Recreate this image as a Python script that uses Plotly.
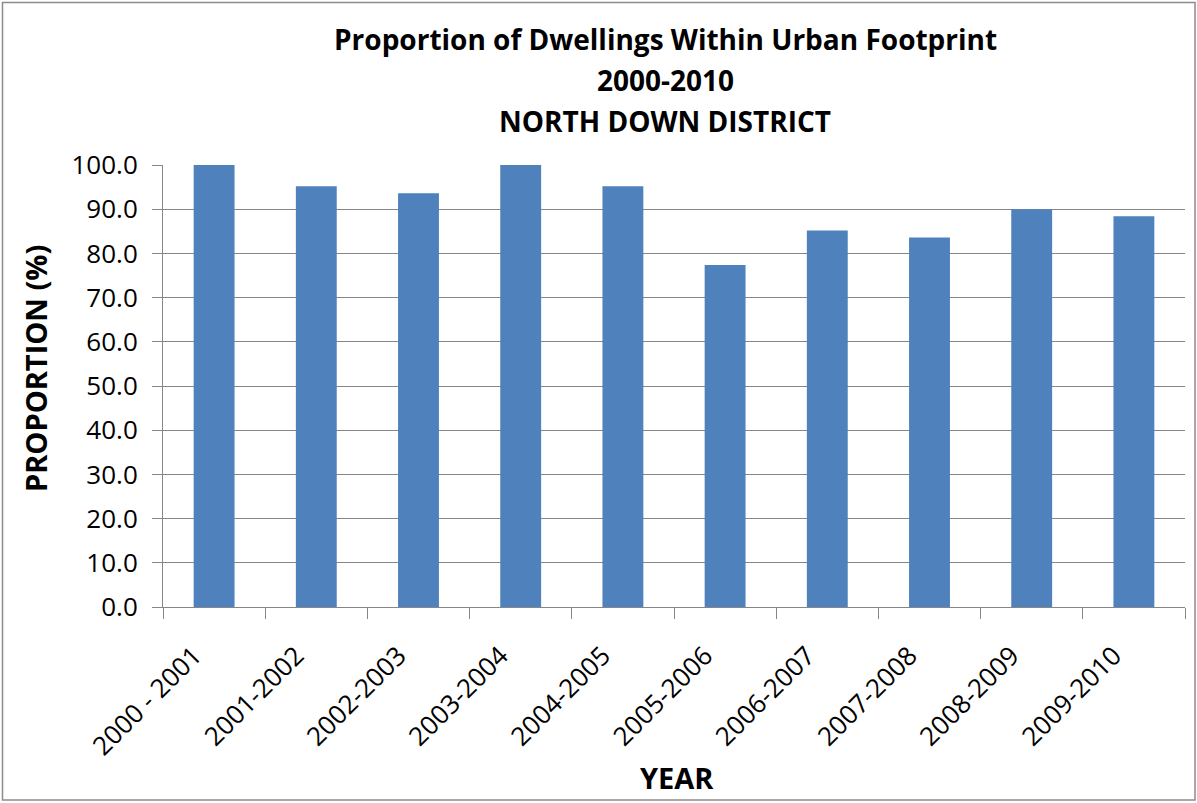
import plotly.graph_objects as go

categories = ["2000 - 2001", "2001-2002", "2002-2003", "2003-2004", "2004-2005",
              "2005-2006", "2006-2007", "2007-2008", "2008-2009", "2009-2010"]
proportion = [100.0, 95.2, 93.6, 100.0, 95.2, 77.4, 85.2, 83.6, 90.0, 88.4]
y_ticks = [0, 10, 20, 30, 40, 50, 60, 70, 80, 90, 100]
title_lines = ["Proportion of Dwellings Within Urban Footprint", "2000-2010", "NORTH DOWN DISTRICT"]

FONT = "Open Sans"
W, H = 1197, 803
L, R, T, B = 163, 12, 165, 196
pw, ph = W - L - R, H - T - B

def px(x):
    return (x - L) / pw

def py(y):
    return (H - B - y) / ph

fig = go.Figure()
fig.add_trace(go.Bar(x=categories, y=proportion, marker_color="#4F81BD",
                     marker_line_width=0, width=0.4))

annotations = []
for line, yc in zip(title_lines, [39, 80, 121]):
    annotations.append(dict(text="<b>%s</b>" % line, x=px(665), y=py(yc), xref="paper", yref="paper",
                            xanchor="center", yanchor="middle", showarrow=False,
                            font=dict(family=FONT, size=28, color="#000000")))
annotations.append(dict(text="<b>PROPORTION (%)</b>", x=px(35), y=py(369), xref="paper", yref="paper",
                        xanchor="center", yanchor="middle", textangle=-90, showarrow=False,
                        font=dict(family=FONT, size=29, color="#000000")))
annotations.append(dict(text="<b>YEAR</b>", x=px(677), y=py(777), xref="paper", yref="paper",
                        xanchor="center", yanchor="middle", showarrow=False,
                        font=dict(family=FONT, size=29, color="#000000")))

fig.update_layout(
    width=W, height=H,
    margin=dict(l=L, r=R, t=T, b=B, pad=0),
    paper_bgcolor="#FFFFFF", plot_bgcolor="#FFFFFF",
    showlegend=False,
    annotations=annotations,
    shapes=[dict(type="rect", xref="paper", yref="paper",
                 x0=px(2.5), x1=px(1195), y0=py(800), y1=py(2.5),
                 line=dict(color="#8C8C8C", width=1.5), fillcolor="rgba(0,0,0,0)", layer="below")],
    font=dict(family=FONT, color="#000000"),
)
fig.update_xaxes(
    type="category", tickangle=-45, tickson="boundaries",
    ticks="outside", ticklen=11, tickcolor="#868686", tickwidth=1,
    showline=True, linecolor="#868686", linewidth=1,
    showgrid=False, tickfont=dict(family=FONT, size=26, color="#000000"),
    range=[-0.5, 9.5],
    ticklabelstandoff=22, ticklabelshift=-20,
)
fig.update_yaxes(
    range=[0, 100], tickvals=y_ticks, ticktext=["%.1f" % v for v in y_ticks],
    ticks="outside", ticklen=10, tickcolor="#868686", tickwidth=1,
    showline=True, linecolor="#868686", linewidth=1,
    showgrid=True, gridcolor="#868686", gridwidth=1,
    zeroline=False, tickfont=dict(family=FONT, size=26, color="#000000"),
    ticklabelstandoff=9,
)

fig.write_html("out.html", config={"displayModeBar": False})
with open("out.html", "r", encoding="utf-8") as f:
    html = f.read()
html = html.replace("<body>", '<body style="margin:0;padding:0;overflow:hidden">', 1)
with open("out.html", "w", encoding="utf-8") as f:
    f.write(html)
